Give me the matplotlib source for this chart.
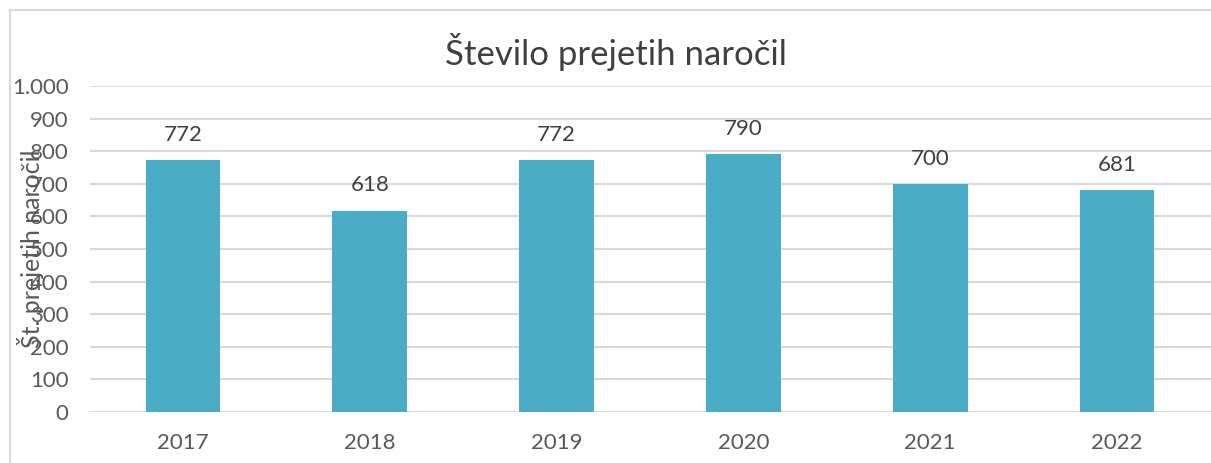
import matplotlib.pyplot as plt
from matplotlib.lines import Line2D
from matplotlib.ticker import FuncFormatter

years = ['2017', '2018', '2019', '2020', '2021', '2022']
orders = [772, 618, 772, 790, 700, 681]
y_ticks = [0, 100, 200, 300, 400, 500, 600, 700, 800, 900, 1000]

plt.rcParams['font.family'] = ['Lato', 'DejaVu Sans']

W, H = 1211, 463
fig = plt.figure(figsize=(W / 100, H / 100), dpi=100)
ax = fig.add_axes([89.5 / W, 51 / H, 1121 / W, 326 / H])

x = range(len(years))
bars = ax.bar(x, orders, width=0.4, color='#4BACC6', zorder=2)
for rect, val in zip(bars, orders):
    ax.annotate(str(val), (rect.get_x() + rect.get_width() / 2, val),
                xytext=(0, 11), textcoords='offset points',
                ha='center', va='bottom', fontsize=16, color='#404040')

ax.set_xlim(-0.5, len(years) - 0.5)
ax.set_ylim(0, 1000)
ax.set_xticks(list(x))
ax.set_xticklabels(years)
ax.set_yticks(y_ticks)
ax.yaxis.set_major_formatter(FuncFormatter(lambda v, p: f'{int(v):,}'.replace(',', '.')))
ax.tick_params(axis='both', length=0, labelsize=16, labelcolor='#595959')
ax.tick_params(axis='y', pad=15)
ax.tick_params(axis='x', pad=15)
ax.grid(axis='y', color='#D9D9D9', linewidth=1.5, zorder=0)
for s in ax.spines.values():
    s.set_visible(False)

ax.set_ylabel('Št. prejetih naročil', fontsize=18, color='#595959')
ax.yaxis.set_label_coords(-45 / 1121, 0.5)

fig.text(616 / W, 1 - 52 / H, 'Število prejetih naročil', ha='center', va='center',
         fontsize=25, color='#404040')

# chart frame (only top and left edges visible in the crop)
fig.add_artist(Line2D([9.5 / W, 9.5 / W], [0, 1 - 9.5 / H], color='#D9D9D9', linewidth=1.5))
fig.add_artist(Line2D([9.5 / W, 1], [1 - 9.5 / H, 1 - 9.5 / H], color='#D9D9D9', linewidth=1.5))

fig.savefig('out.png', dpi=100)
